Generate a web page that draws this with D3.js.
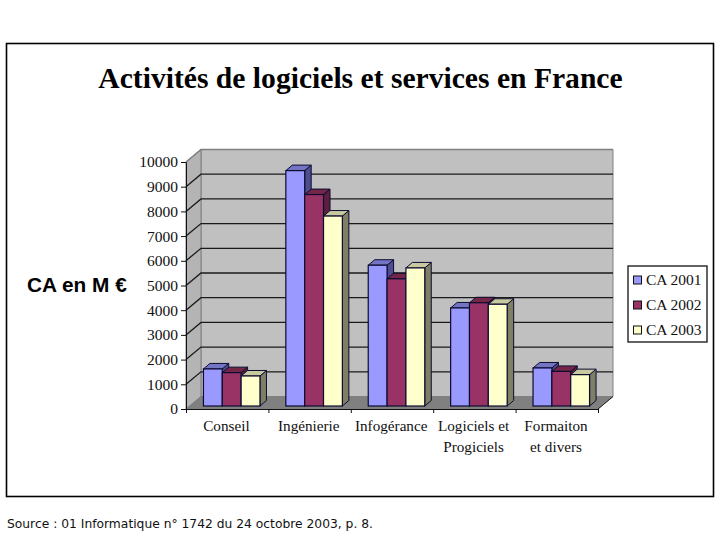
<!DOCTYPE html>
<html><head><meta charset="utf-8">
<script src="https://cdn.jsdelivr.net/npm/d3@7"></script>
<style>html,body{margin:0;padding:0;background:#fff}svg{display:block}</style>
</head><body><svg id="c" width="720" height="540"></svg>
<script>
const categories = [["Conseil"],["Ingénierie"],["Infogérance"],["Logiciels et","Progiciels"],["Formaiton","et divers"]];
const seriesNames = ["CA 2001","CA 2002","CA 2003"];
const ca2001 = [1500,9530,5700,3970,1540];
const ca2002 = [1350,8560,5150,4180,1400];
const ca2003 = [1215,7690,5590,4120,1270];
const yTicks = [0,1000,2000,3000,4000,5000,6000,7000,8000,9000,10000];
const fronts = ["#9999ff","#993366","#ffffcc"];
const tops = ["#7474c4","#732648","#c9c9a0"];
const sides = ["#4d4d8f","#5c1f3d","#7f7f66"];
const values = [ca2001,ca2002,ca2003];

const svg = d3.select("#c");
const serif = "'Liberation Serif','Times New Roman',serif";
const L=186,R=598,T=162,B=409, DX=15, DY=-12.5;
const barDx=6.5, barDy=-5.5, barLift=3;
const y = d3.scaleLinear().domain([0,10000]).range([B,T]);
const x = d3.scaleBand().domain(d3.range(categories.length)).range([L+4.5,R+4.5]).paddingInner(0.314).paddingOuter(0.157);
const xs = d3.scaleBand().domain(d3.range(3)).range([0,x.bandwidth()]);

svg.append("rect").attr("x",6.5).attr("y",43.5).attr("width",707).attr("height",453).attr("fill","#fff").attr("stroke","#000").attr("stroke-width",1.6);
svg.append("text").attr("x",360.5).attr("y",88).attr("text-anchor","middle").attr("font-family",serif).attr("font-weight","bold").attr("font-size",29.6).text("Activités de logiciels et services en France");

const poly=(pts,fill,stroke)=>svg.append("polygon").attr("points",pts.map(p=>p.join(",")).join(" ")).attr("fill",fill).attr("stroke",stroke||"none");
// walls and floor
poly([[L+DX,T+DY],[R+DX,T+DY],[R+DX,B+DY],[L+DX,B+DY]],"#c0c0c0","#808080");
poly([[L,T],[L+DX,T+DY],[L+DX,B+DY],[L,B]],"#b4b4b4","#808080");
poly([[L,B],[L+DX,B+DY],[R+DX,B+DY],[R,B]],"#808080","#808080");
// gridlines
yTicks.filter(v=>v>0).forEach(v=>{
  svg.append("polyline").attr("fill","none").attr("stroke",v==10000?"#808080":"#1a1a1a").attr("stroke-width",v==10000?1.5:1.3)
    .attr("points",[[L,y(v)],[L+DX,y(v)+DY],[R+DX,y(v)+DY]].map(p=>p.join(",")).join(" "));
});
svg.append("line").attr("x1",R).attr("y1",B).attr("x2",R+DX).attr("y2",B+DY).attr("stroke","#222");
// bars
categories.forEach((c,i)=>{
  values.forEach((s,k)=>{
    const x0=x(i)+xs(k), w=xs.bandwidth(), y0=y(s[i])-barLift, yb=y(0)-barLift;
    const st="#0c0c30";
    poly([[x0+w,y0],[x0+w+barDx,y0+barDy],[x0+w+barDx,yb+barDy],[x0+w,yb]],sides[k],st);
    poly([[x0,y0],[x0+barDx,y0+barDy],[x0+w+barDx,y0+barDy],[x0+w,y0]],tops[k],st);
    svg.append("rect").attr("x",x0).attr("y",y0).attr("width",w).attr("height",yb-y0).attr("fill",fronts[k]).attr("stroke",st).attr("stroke-width",1.2);
  });
});
// axes
const yAxis=svg.append("g").attr("transform",`translate(${L},0)`).call(d3.axisLeft(y).tickValues(yTicks).tickFormat(d3.format("d")).tickSize(5).tickPadding(3));
yAxis.selectAll("text").attr("font-family",serif).attr("font-size",15.5).attr("fill","#111");
yAxis.selectAll("line,path").attr("stroke","#111");
const edge=d3.scaleLinear().domain([0,categories.length]).range([L,R]);
const xAxis=svg.append("g").attr("transform",`translate(0,${B})`).call(d3.axisBottom(edge).tickValues(d3.range(categories.length+1)).tickFormat("").tickSize(4));
xAxis.selectAll("line,path").attr("stroke","#111");
categories.forEach((c,i)=>{
  const t=svg.append("text").attr("text-anchor","middle").attr("font-family",serif).attr("font-size",15.2).attr("fill","#111");
  c.forEach((line,j)=>t.append("tspan").attr("x",edge(i+0.5)-0.8).attr("y",431+j*20.5).text(line));
});
// legend
svg.append("rect").attr("x",628).attr("y",266).attr("width",79).attr("height",76).attr("fill","#fff").attr("stroke","#222").attr("stroke-width",1.4);
seriesNames.forEach((n,k)=>{
  const ly=280+k*25;
  svg.append("rect").attr("x",633.5).attr("y",ly-4).attr("width",8).attr("height",8).attr("fill",fronts[k]).attr("stroke","#111");
  svg.append("text").attr("x",646).attr("y",ly+5).attr("font-family",serif).attr("font-size",15.5).attr("fill","#111").text(n);
});
svg.append("text").attr("x",27).attr("y",291.5).attr("font-family","'Liberation Sans',Arial,sans-serif").attr("font-weight","bold").attr("font-size",20.8).text("CA en M €");
svg.append("text").attr("x",7).attr("y",528).attr("font-family","'DejaVu Sans',Verdana,sans-serif").attr("font-size",12.3).attr("fill","#111").text("Source : 01 Informatique n° 1742 du 24 octobre 2003, p. 8.");
</script></body></html>
